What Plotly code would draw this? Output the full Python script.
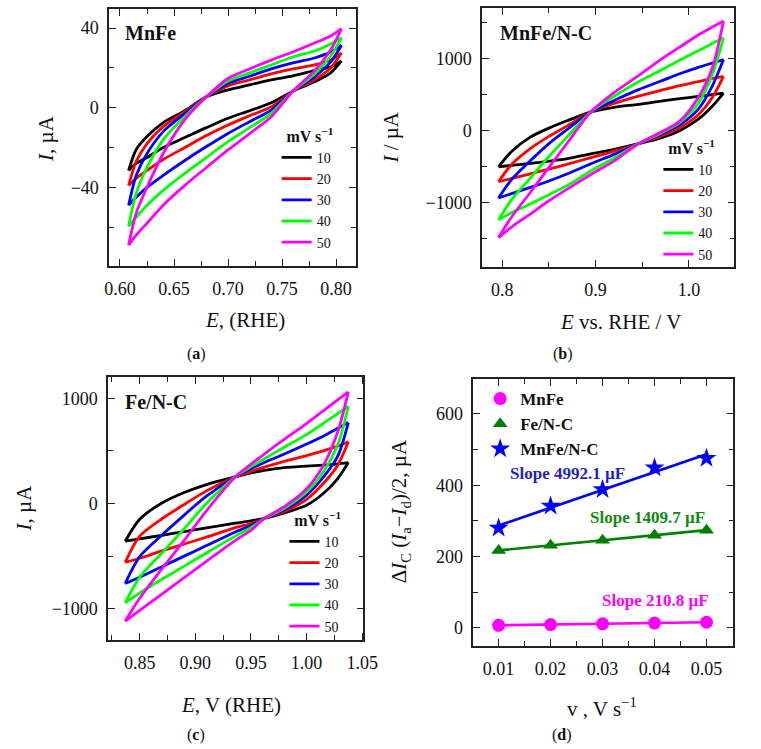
import numpy as np
import plotly.graph_objects as go

FONT = "Liberation Serif"

rates = ["10", "20", "30", "40", "50"]
colors = ["#000000", "#ff0000", "#0000ff", "#00ff00", "#ff00ff"]

# ---------- panel (a) MnFe ----------
a_E = [0.608, 0.615, 0.625, 0.64, 0.66, 0.68, 0.70, 0.72, 0.74, 0.76, 0.78, 0.795, 0.805]
a_upper = [
    [-31.5, -21, -14.5, -7.5, -1.5, 5.5, 9, 11.5, 14, 16, 18.7, 20.5, 23.5],
    [-39, -27, -18, -9.5, -2, 5.5, 11, 14, 17, 19.5, 21.5, 24, 27.6],
    [-49, -34, -23, -12, -3, 5.5, 12.2, 15.8, 19.5, 22.5, 25, 28, 31.4],
    [-59.6, -43, -30, -16, -4.5, 5.5, 13.4, 17.5, 21.5, 25.5, 28.5, 32, 35.2],
    [-69, -53, -40, -23, -6, 5.5, 14.7, 19.5, 23.9, 28, 32.5, 36, 39.7],
]
a_lower = [
    [-31.5, -28, -25, -20, -15, -10, -5.3, -1.5, 2.5, 8.3, 13, 17.5, 23.5],
    [-39, -35.5, -31.5, -26, -20, -14, -8.7, -4, 0.5, 8.3, 14, 20, 27.6],
    [-49, -45, -40, -34, -26.5, -19.5, -12.9, -7, -1.2, 8.3, 15.5, 23, 31.4],
    [-59.6, -55, -49, -41.5, -33, -25, -17, -10, -2.8, 8.3, 17, 26, 35.2],
    [-69, -64, -58, -49, -39, -30, -21.2, -13, -4.5, 8.3, 18.5, 29, 39.7],
]

# ---------- panel (b) MnFe/N-C ----------
b_E = [0.796, 0.81, 0.83, 0.85, 0.87, 0.895, 0.92, 0.946, 0.97, 0.99, 1.01, 1.025, 1.037]
b_upper = [
    [-503, -290, -90, 35, 140, 261, 325, 365, 410, 445, 475, 500, 522],
    [-709, -470, -250, -80, 70, 261, 380, 480, 560, 625, 680, 725, 755],
    [-937, -680, -420, -180, 20, 261, 420, 570, 690, 790, 880, 940, 988],
    [-1240, -960, -660, -360, -80, 261, 480, 680, 840, 980, 1110, 1210, 1291],
    [-1487, -1200, -860, -510, -165, 261, 530, 765, 990, 1160, 1330, 1440, 1524],
]
b_lower = [
    [-503, -482, -455, -425, -390, -322, -260, -182, -100, 0, 160, 340, 522],
    [-709, -665, -600, -535, -465, -375, -285, -182, -75, 40, 220, 460, 755],
    [-937, -875, -790, -700, -600, -460, -330, -182, -50, 80, 300, 620, 988],
    [-1240, -1140, -1020, -890, -760, -560, -380, -182, -35, 110, 380, 780, 1291],
    [-1487, -1340, -1160, -975, -810, -610, -420, -182, -20, 130, 460, 870, 1524],
]

# ---------- panel (c) Fe/N-C ----------
c_E = [0.837, 0.85, 0.87, 0.89, 0.91, 0.936, 0.95, 0.962, 0.98, 1.0, 1.015, 1.028, 1.0375]
c_upper = [
    [-358, -150, 5, 105, 180, 253, 290, 315, 340, 355, 365, 377, 389],
    [-560, -310, -145, -10, 120, 253, 305, 345, 400, 455, 500, 545, 586],
    [-760, -505, -300, -110, 70, 253, 330, 390, 470, 565, 640, 715, 769],
    [-943, -700, -470, -240, 0, 253, 350, 425, 535, 655, 760, 855, 924],
    [-1117, -900, -620, -350, -70, 253, 375, 470, 610, 760, 880, 985, 1060],
]
c_lower = [
    [-358, -336, -302, -267, -232, -187, -165, -142, -89, -16, 95, 237, 389],
    [-560, -520, -450, -385, -320, -230, -190, -142, -75, 40, 190, 364, 586],
    [-760, -700, -600, -500, -400, -270, -210, -142, -60, 80, 250, 450, 769],
    [-943, -850, -720, -595, -470, -310, -230, -142, -45, 110, 300, 560, 924],
    [-1117, -1015, -860, -705, -550, -350, -255, -142, -30, 140, 360, 680, 1060],
]

# ---------- panel (d) double-layer capacitance ----------
d_v = [0.01, 0.02, 0.03, 0.04, 0.05]
d_names = ["MnFe", "Fe/N-C", "MnFe/N-C"]
d_values = [
    [7.5, 9.6, 11.7, 13.8, 16.0],
    [217, 232, 246, 260, 274],
    [280, 342, 388, 449, 476],
]
d_slopes = ["210.8", "1409.7", "4992.1"]
d_colors = ["#ff00ff", "#008000", "#0000ff"]
d_text_colors = ["#ff00ff", "#128a12", "#1f1fc8"]
d_symbols = ["circle", "triangle-up", "star"]
d_sizes = [13, 13, 15]
d_slope_pos = [(0.0401, 78), (0.0387, 311), (0.0232, 432)]

fig = go.Figure()

panels = [
    (a_E, a_upper, a_lower, "x", "y", "legend"),
    (b_E, b_upper, b_lower, "x2", "y2", "legend2"),
    (c_E, c_upper, c_lower, "x3", "y3", "legend3"),
]
for E, ups, lows, xa, ya, leg in panels:
    for i, r in enumerate(rates):
        line = dict(color=colors[i], width=2.8, shape="spline", smoothing=0.8)
        fig.add_trace(go.Scatter(x=E, y=ups[i], mode="lines", line=line, name=r,
                                 legend=leg, legendgroup=leg + r, xaxis=xa, yaxis=ya))
        fig.add_trace(go.Scatter(x=E, y=lows[i], mode="lines", line=line, name=r,
                                 legend=leg, legendgroup=leg + r, showlegend=False,
                                 xaxis=xa, yaxis=ya))

for i, name in enumerate(d_names):
    k, b = np.polyfit(d_v, d_values[i], 1)
    fit = [k * v + b for v in d_v]
    fig.add_trace(go.Scatter(x=d_v, y=fit, mode="lines",
                             line=dict(color=d_colors[i], width=2.7),
                             showlegend=False, xaxis="x4", yaxis="y4", hoverinfo="skip"))
for i, name in enumerate(d_names):
    fig.add_trace(go.Scatter(x=d_v, y=d_values[i], mode="markers",
                             marker=dict(symbol=d_symbols[i], size=d_sizes[i], color=d_colors[i]),
                             name="<b>%s</b>" % name, legend="legend4",
                             xaxis="x4", yaxis="y4"))

AX = "#222222"
tickfont = dict(family=FONT, size=18, color="#111111")


def axis(domain, rng, dtick, tick0, minor_dtick, fmt, anchor, is_x):
    d = dict(domain=domain, range=rng, dtick=dtick, tick0=tick0, tickformat=fmt,
             anchor=anchor, showline=True, linecolor=AX, linewidth=1.5,
             mirror="allticks", ticks="inside", ticklen=7, tickwidth=1.3, tickcolor=AX,
             showgrid=False, zeroline=False, tickfont=tickfont,
             minor=dict(dtick=minor_dtick, tick0=tick0, ticks="inside", ticklen=5,
                        tickwidth=1.3, tickcolor=AX, showgrid=False))
    d["ticklabelstandoff"] = 6 if is_x else 5
    return d


W, H = 761, 749


def px_x(p):
    return p / W


def px_y(p):
    return 1 - p / H


fig.update_layout(
    width=W, height=H, margin=dict(l=0, r=0, t=0, b=0),
    paper_bgcolor="white", plot_bgcolor="white",
    xaxis=axis([px_x(107), px_x(360)], [0.59, 0.818], 0.05, 0.6, 0.025, ".2f", "y", True),
    yaxis=axis([px_y(266), px_y(9)], [-79.5, 49.6], 40, 0, 20, "", "x", False),
    xaxis2=axis([px_x(490), px_x(749)], [0.7784, 1.0486], 0.1, 0.8, 0.05, ".1f", "y2", True),
    yaxis2=axis([px_y(267), px_y(8)], [-1896, 1705], 1000, 0, 500, "", "x2", False),
    xaxis3=axis([px_x(106), px_x(368)], [0.8217, 1.051], 0.05, 0.85, 0.025, ".2f", "y3", True),
    yaxis3=axis([px_y(640), px_y(377)], [-1297, 1202], 1000, 0, 500, "", "x3", False),
    xaxis4=axis([px_x(481), px_x(748)], [0.00514, 0.05516], 0.01, 0.01, 0.005, ".2f", "y4", True),
    yaxis4=axis([px_y(646), px_y(379)], [-50.6, 698], 200, 0, 100, "", "x4", False),
)

leg_font = dict(family=FONT, size=14, color="#111111")
leg_title = dict(text="<b>mV s<sup>−1</sup></b>", font=dict(family=FONT, size=16, color="#111111"),
                 side="top right")
for name, x, y in [("legend", 279, 121), ("legend2", 671, 133), ("legend3", 287, 505)]:
    fig.update_layout({name: dict(x=px_x(x), y=px_y(y), xanchor="left", yanchor="top",
                                  bgcolor="rgba(0,0,0,0)", font=leg_font, title=leg_title,
                                  tracegroupgap=0)})
fig.update_layout(legend4=dict(x=px_x(488), y=px_y(381), xanchor="left", yanchor="top",
                               bgcolor="rgba(0,0,0,0)",
                               font=dict(family=FONT, size=17, color="#111111"),
                               tracegroupgap=0))

ann = []


def text(x, y, t, size=21, angle=0, xanchor="center", color="#111111", xref="paper", yref="paper"):
    ann.append(dict(x=x, y=y, xref=xref, yref=yref, text=t, showarrow=False,
                    textangle=angle, xanchor=xanchor, yanchor="middle",
                    font=dict(family=FONT, size=size, color=color)))


# panel labels
text(px_x(121), px_y(33), "<b>MnFe</b>", 20, xanchor="left")
text(px_x(506), px_y(33), "<b>MnFe/N-C</b>", 20, xanchor="left")
text(px_x(121), px_y(402), "<b>Fe/N-C</b>", 20, xanchor="left")

# axis titles
text(px_x(246), px_y(320), "<i>E</i>, (RHE)")
text(px_x(632), px_y(322), "<i>E</i> vs. RHE / V")
text(px_x(232), px_y(705), "<i>E</i>, V (RHE)")
text(px_x(613), px_y(707), "v , V s<sup>−1</sup>")
text(px_x(42), px_y(138), "<i>I</i>, µA", angle=-90)
text(px_x(396), px_y(138), "<i>I</i> / µA", angle=-90)
text(px_x(20), px_y(508), "<i>I</i>, µA", angle=-90)
text(px_x(406), px_y(511),
     "Δ<i>I</i><sub>C</sub> (<i>I</i><sub>a</sub>−<i>I</i><sub>d</sub>)/2, µA", angle=-90)

# captions
text(px_x(197), px_y(354), "(<b>a</b>)", 16)
text(px_x(573), px_y(354), "(<b>b</b>)", 16)
text(px_x(196), px_y(735), "(<b>c</b>)", 16)
text(px_x(572), px_y(735), "(<b>d</b>)", 16)

# slope labels
for i in range(3):
    x, y = d_slope_pos[i]
    text(x, y, "<b>Slope %s µF</b>" % d_slopes[i], 17, color=d_text_colors[i],
         xref="x4", yref="y4")

fig.update_layout(annotations=ann)
fig.write_html("out.html")
